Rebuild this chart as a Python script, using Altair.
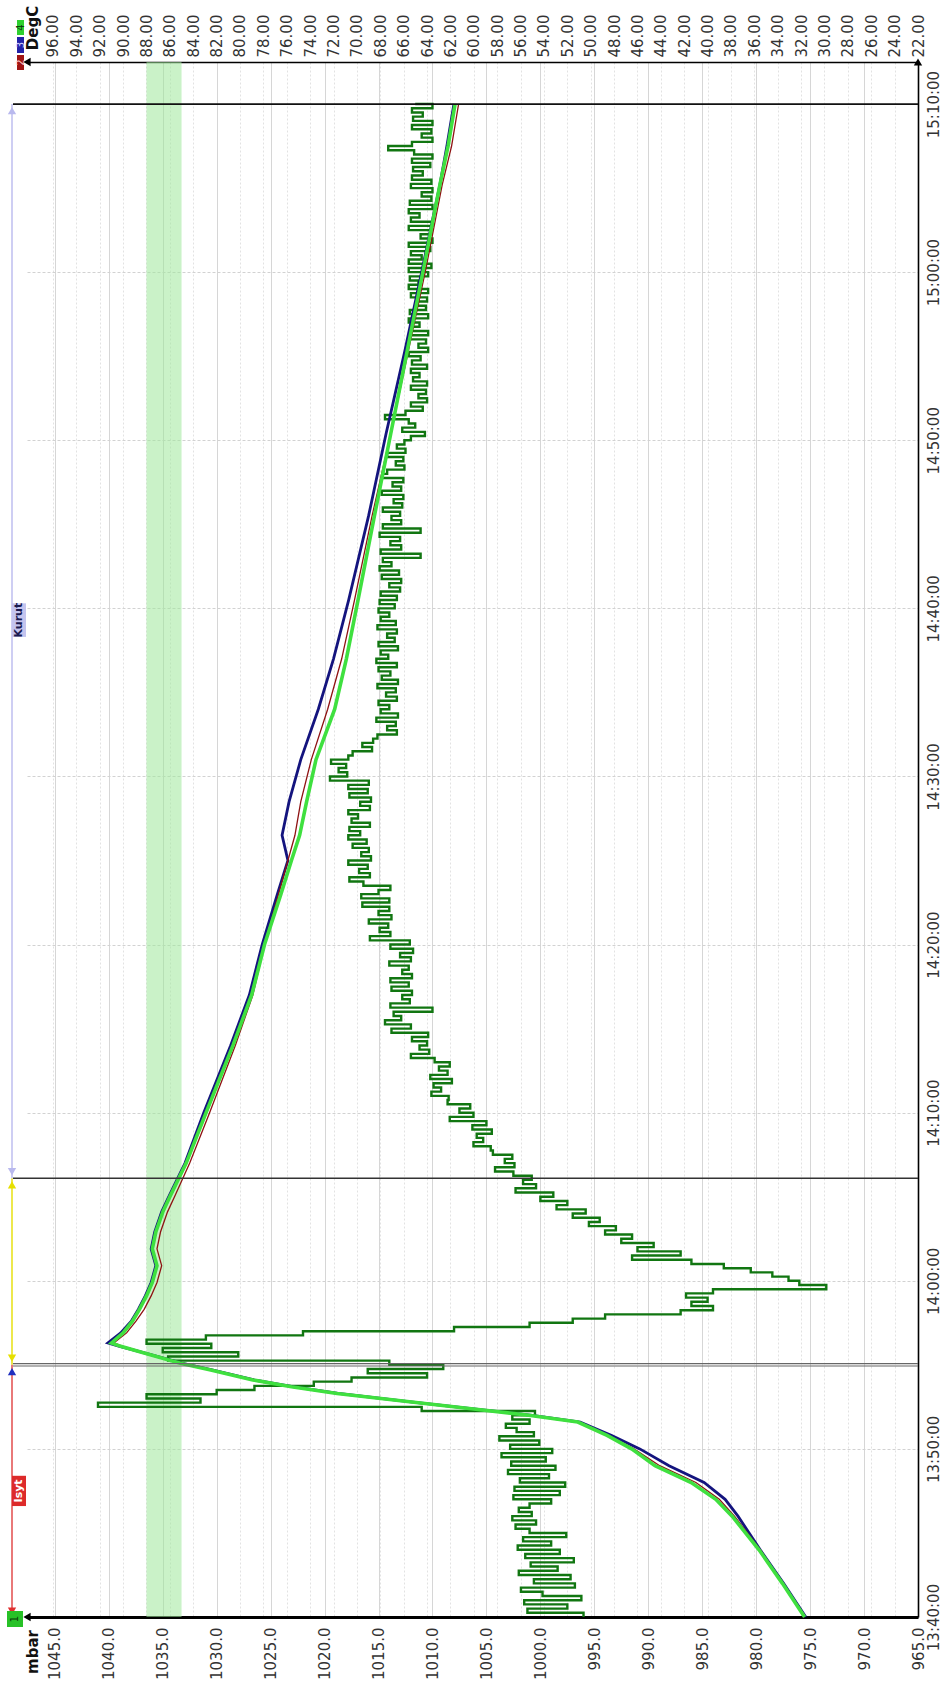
import altair as alt
import pandas as pd

# Plot area in pixels
W, H = 891, 1555

# ---------------------------------------------------------------
# Pressure logger, channel 1 (mbar), one reading every 15 s from 13:40:00
SAMPLE_MIN = 0.25

# 13:40:00 - 13:51:45 (heating, chamber near ambient)
pressure_heat = [
    996.0, 1001.2, 997.5, 1001.5, 996.2, 999.8,
    1001.8, 996.8, 1000.6, 997.2, 1002.0, 998.4, 1000.9,
    996.9, 1001.4, 998.2, 1002.1, 999.0, 1001.6, 997.6, 1001.0,
    1002.3, 1000.4, 1002.6, 1000.8, 1002.0, 1001.0, 999.0, 1002.5,
    998.2, 1002.4, 997.7, 1001.9, 999.2, 1003.0, 998.6, 1002.7,
    999.5, 1003.6, 998.9, 1002.8, 1000.1, 1003.8, 1000.6, 1002.2,
    1003.2, 1001.0, 1002.6,
]
# 13:52:00 - 14:05:00 (pressure pulse and vacuum)
pressure_vent = [
    1000.5, 1011.0, 1041.0, 1031.5,
    1036.5, 1030.0, 1026.5, 1021.0,
    1017.5, 1010.5, 1016.0, 1009.0,
    1014.0, 1034.5, 1028.0, 1035.0,
    1030.5, 1036.5, 1031.0, 1022.0,
    1008.0, 1001.0, 997.0, 994.0,
    987.0, 984.0, 986.0, 984.5,
    986.5, 984.0, 973.5, 976.0,
    977.0, 978.5, 980.5, 983.0,
    986.0, 991.5, 987.0, 991.0,
    989.5, 992.5, 991.5, 994.0,
    993.0, 995.5, 994.5, 997.0,
    995.8, 998.5, 997.5, 1000.0,
    998.8,
]
# 14:05:15 - 15:10:00 (drying)
pressure_dry = [
    1002.3, 1000.4, 1001.6, 1000.8, 1002.5,
    1004.2, 1002.4, 1003.3, 1002.6, 1004.4,
    1004.6, 1006.2, 1005.3, 1005.9, 1004.5, 1006.3, 1005.0,
    1008.4, 1006.2, 1007.5, 1006.5, 1008.6,
    1008.5, 1010.1, 1009.2, 1009.9, 1008.2, 1010.2, 1008.6, 1009.4, 1008.4, 1009.8,
    1012.0, 1010.3, 1011.2, 1010.5, 1011.9, 1010.4,
    1013.8, 1012.0, 1014.4, 1012.9, 1013.6, 1010.0, 1013.9, 1012.1, 1012.8, 1011.9, 1013.8, 1012.2,
    1013.9, 1011.9, 1012.8, 1012.2, 1014.0, 1012.0, 1013.0, 1011.8, 1013.9, 1012.1,
    1015.8, 1013.9, 1014.9, 1014.1, 1015.9, 1013.8, 1015.0, 1014.0,
    1016.5, 1014.0, 1016.6, 1015.0, 1013.9, 1016.4,
    1017.7, 1015.8, 1016.8, 1016.0, 1017.8, 1015.7, 1016.6, 1015.9, 1017.4, 1016.1, 1017.8, 1016.7,
    1017.7, 1015.8, 1017.5, 1016.9, 1017.8, 1015.8, 1016.7, 1015.7, 1017.7, 1016.0, 1017.8, 1015.9,
    1019.5, 1017.9, 1018.7, 1018.0, 1019.4, 1017.8,
    1017.4, 1015.6, 1016.5, 1015.5,
    1015.1, 1013.3, 1014.2, 1013.4, 1015.2, 1013.2, 1014.8, 1014.0, 1015.0, 1013.3, 1014.3, 1013.4,
    1015.1, 1013.2, 1014.7, 1013.9, 1015.0, 1013.3, 1015.2, 1014.1, 1014.8, 1013.2, 1015.0, 1013.5,
    1014.2, 1013.3, 1015.1, 1013.4, 1014.8, 1014.0, 1015.0, 1013.5, 1014.9, 1013.3,
    1014.8, 1013.0, 1014.0, 1012.9, 1014.7, 1013.1, 1014.9, 1013.8, 1014.6, 1011.1,
    1014.8, 1012.9, 1013.9, 1013.0, 1014.9, 1011.1, 1014.6, 1012.9, 1013.8, 1013.0,
    1014.6, 1012.8, 1013.6, 1012.7, 1014.7, 1012.9, 1013.7, 1012.7, 1014.6,
    1014.2, 1012.6, 1013.4, 1012.7, 1014.2, 1012.5, 1013.3, 1012.6,
    1012.0, 1010.7, 1012.8, 1011.6, 1012.2, 1014.4, 1012.5, 1010.9,
    1012.0, 1010.5, 1011.3, 1010.6, 1012.0, 1010.5, 1011.8, 1011.2, 1012.0, 1010.5, 1011.9, 1011.1,
    1012.2, 1010.4, 1011.3, 1010.6, 1012.2, 1010.4, 1012.0, 1011.2, 1012.2, 1010.4, 1012.1,
    1010.6, 1011.4, 1010.5, 1012.0, 1010.4, 1012.2, 1011.3, 1012.1, 1010.4, 1012.2,
    1010.1, 1012.2, 1011.0, 1012.0, 1010.2, 1012.2, 1010.0, 1011.1, 1010.1, 1012.2,
    1010.0, 1012.0, 1011.2, 1012.2, 1010.0, 1012.1, 1010.1, 1011.0, 1010.0, 1012.0,
    1010.1, 1011.9, 1010.9, 1011.8, 1010.2, 1011.9, 1010.0, 1011.7, 1014.1, 1011.9,
    1010.0, 1011.0, 1010.1, 1011.9, 1010.0, 1011.8, 1010.9, 1011.9, 1010.0, 1011.6,
]

# ---------------------------------------------------------------
# Temperature probes 2, 3, 4 (DegC), minutes after 13:40:00
temp_time = [
    0, 2, 4, 6, 7, 8, 9, 10, 10.8, 11.6,
    12.0, 12.4, 12.8, 13.3, 13.7, 14.1, 14.7, 15.1, 15.7, 16.1,
    16.3, 16.9, 17.6, 18.3, 19.1, 19.9, 20.9, 21.9, 22.9, 24.1,
    25.0, 27.0, 30.0, 34.0, 37.0, 40.0, 43.0, 45.0, 46.5, 48.5,
    51.0, 54.0, 57.0, 60.5, 65.5, 70.4, 75.3, 80.2, 85.2, 87.5, 90.0,
]
temp_ch4 = [
    31.7, 33.6, 35.6, 37.9, 39.3, 41.4, 44.5, 46.5, 48.6, 51.1,
    55.3, 60.4, 65.5, 71.7, 75.6, 78.9, 82.5, 85.1, 88.2, 90.2,
    91.0, 90.0, 89.2, 88.6, 88.0, 87.5, 87.1, 87.5, 87.2, 86.6,
    86.0, 84.6, 82.9, 80.6, 79.0, 77.9, 76.5, 75.6, 74.9, 74.3,
    73.5, 71.9, 70.9, 69.9, 68.5, 67.1, 65.7, 64.3, 62.9, 62.2, 61.6,
]
temp_ch3 = [
    31.6, 33.5, 35.5, 37.4, 38.5, 40.3, 43.3, 45.8, 48.2, 50.9,
    55.0, 60.2, 65.4, 71.6, 75.5, 78.8, 82.4, 85.0, 88.1, 90.3,
    91.3, 90.2, 89.3, 88.7, 88.1, 87.6, 87.2, 87.6, 87.3, 86.7,
    86.1, 84.7, 83.1, 80.8, 79.2, 78.1, 76.8, 75.9, 76.4, 75.8,
    74.8, 73.3, 72.0, 70.7, 69.0, 67.5, 65.9, 64.4, 62.9, 62.3, 61.7,
]
temp_ch2 = [
    31.7, 33.6, 35.5, 37.7, 39.0, 41.0, 44.1, 46.3, 48.5, 51.0,
    55.2, 60.3, 65.4, 71.6, 75.5, 78.7, 82.3, 84.9, 88.0, 90.0,
    90.8, 89.7, 88.9, 88.2, 87.6, 87.1, 86.7, 87.1, 86.8, 86.2,
    85.6, 84.3, 82.6, 80.4, 78.9, 77.9, 76.7, 75.9, 75.3, 74.8,
    73.9, 72.5, 71.3, 70.2, 68.7, 67.1, 65.6, 64.1, 62.7, 61.9, 61.3,
]

# Target temperature band (DegC)
band_low, band_high = 85.0, 88.0

# Process phases (minutes after 13:40:00)
phase_start = [0.0, 15.0, 26.1]
phase_end = [15.0, 26.1, 90.0]
phase_color = ["#e04040", "#e6df00", "#b9b9ee"]

# Axis ticks
mbar_ticks = [965 + 5 * i for i in range(17)]
degc_ticks = [22 + 2 * i for i in range(38)]
time_ticks = [10 * i for i in range(10)]

FONT = "DejaVu Sans"
LABEL = "#333333"

# ---------------------------------------------------------------
pressure = pressure_heat + pressure_vent + pressure_dry
p_df = pd.DataFrame({
    "i": range(len(pressure)),
    "t": [i * SAMPLE_MIN for i in range(len(pressure))],
    "mbar": pressure,
})


def temp_frame(values):
    return pd.DataFrame({"i": range(len(values)), "t": temp_time, "degc": values})


band_df = pd.DataFrame({"lo": [band_low], "hi": [band_high]})
one = pd.DataFrame({"a": [0]})

mbar_scale = alt.Scale(domain=[965, 1047.58], reverse=True, nice=False, zero=False)
degc_scale = alt.Scale(domain=[22, 98.22], reverse=True, nice=False, zero=False)
time_scale = alt.Scale(domain=[0, 92.5], nice=False, zero=False)

time_axis = alt.Axis(
    orient="right", values=time_ticks, title=None,
    labelExpr="timeFormat(datetime(2020, 0, 1, 13, 40 + datum.value, 0), '%H:%M:%S')",
    labelAngle=270, labelAlign="center", labelBaseline="top", labelPadding=8,
    labelFont=FONT, labelFontSize=15, labelColor=LABEL,
    ticks=False, domainColor="#000000", domainWidth=1.6,
    grid=True, gridColor="#d2d2d2", gridDash=[3, 2], gridWidth=1,
)
mbar_axis = alt.Axis(
    orient="bottom", values=mbar_ticks, format=".1f", title=None,
    labelAngle=270, labelAlign="right", labelBaseline="middle", labelPadding=10,
    labelFont=FONT, labelFontSize=15, labelColor=LABEL,
    ticks=False, domainColor="#000000", domainWidth=3,
    grid=True, gridColor="#d6d6d6", gridWidth=1,
)
degc_axis = alt.Axis(
    orient="top", values=degc_ticks, format=".2f", title=None,
    labelAngle=270, labelAlign="left", labelBaseline="middle", labelPadding=5,
    labelFont=FONT, labelFontSize=15, labelColor=LABEL,
    ticks=False, domainColor="#000000", domainWidth=1.6,
    grid=True, gridColor="#e2e2e2", gridDash=[2, 2], gridWidth=1,
)


def ytime(field="t"):
    return alt.Y(f"{field}:Q", scale=time_scale, axis=time_axis)


# Target band, carries the DegC axis
band = alt.Chart(band_df).mark_rect(color="#9fe89a", opacity=0.55).encode(
    x=alt.X("lo:Q", scale=degc_scale, axis=degc_axis),
    x2="hi:Q",
    y=alt.value(0),
    y2=alt.value(H),
)

# Chamber pressure, carries the mbar axis
press = alt.Chart(p_df).mark_line(
    interpolate="step-before", color="#117611", strokeWidth=2.4
).encode(
    x=alt.X("mbar:Q", scale=mbar_scale, axis=mbar_axis),
    y=ytime(),
    order=alt.Order("i:Q"),
)


def temp_line(values, color, width):
    return alt.Chart(temp_frame(values)).mark_line(color=color, strokeWidth=width).encode(
        x=alt.X("degc:Q", scale=degc_scale, axis=None),
        y=ytime(),
        order=alt.Order("i:Q"),
    )


blue = temp_line(temp_ch3, "#14147e", 2.8)
red = temp_line(temp_ch2, "#8e1212", 1.3)
green = temp_line(temp_ch4, "#3fe03f", 3.6)

# Phase boundary lines across the plot
bound_df = pd.DataFrame({
    "t": [14.93, 15.07, 26.1, 90.0],
    "c": ["#666666", "#666666", "#333333", "#111111"],
    "w": [1.2, 1.2, 1.6, 1.8],
})
bounds = alt.Chart(bound_df).mark_rule().encode(
    y=ytime(),
    x=alt.value(-14),
    x2=alt.value(W),
    color=alt.Color("c:N", scale=None),
    strokeWidth=alt.StrokeWidth("w:Q", scale=None),
)

# Phase bars in the left margin
phase_df = pd.DataFrame({"s": phase_start, "e": phase_end, "c": phase_color})
phases = alt.Chart(phase_df).mark_rule(strokeWidth=1.4).encode(
    x=alt.value(-15),
    y=ytime("s"),
    y2="e:Q",
    color=alt.Color("c:N", scale=None),
)

marker_df = pd.DataFrame({
    "t": [0.35, 14.6, 15.4, 25.7, 26.5, 89.6],
    "shape": ["triangle-down", "triangle-up", "triangle-down", "triangle-up",
              "triangle-down", "triangle-up"],
    "c": ["#e03030", "#2030c0", "#e6df00", "#e6df00", "#b9b9ee", "#b9b9ee"],
})
markers = alt.Chart(marker_df).mark_point(filled=True, size=70, opacity=1).encode(
    x=alt.value(-15),
    y=ytime(),
    shape=alt.Shape("shape:N", scale=None),
    color=alt.Color("c:N", scale=None),
)

tag_df = pd.DataFrame({
    "name": ["Isyt", "Kurut"],
    "t0": [6.6, 58.3],
    "t1": [8.4, 60.3],
    "tm": [7.5, 59.3],
    "fill": ["#dd2a2a", "#c4c4ee"],
    "ink": ["#ffffff", "#1a1a50"],
})
tag_box = alt.Chart(tag_df).mark_rect().encode(
    x=alt.value(-15), x2=alt.value(-1),
    y=ytime("t0"), y2="t1:Q",
    color=alt.Color("fill:N", scale=None),
)
tag_text = alt.Chart(tag_df).mark_text(
    angle=270, font=FONT, fontSize=11, fontWeight="bold", align="center", baseline="middle"
).encode(
    x=alt.value(-8),
    y=ytime("tm"),
    text="name:N",
    color=alt.Color("ink:N", scale=None),
)


def box(x0, x1, y0, y1, fill):
    return alt.Chart(one).mark_rect(color=fill).encode(
        x=alt.value(x0), x2=alt.value(x1), y=alt.value(y0), y2=alt.value(y1)
    )


def label(x, y, text, color, size, weight="normal"):
    return alt.Chart(one).mark_text(
        text=text, angle=270, color=color, font=FONT, fontSize=size,
        fontWeight=weight, align="center", baseline="middle",
    ).encode(x=alt.value(x), y=alt.value(y))


def arrow(x, y, shape):
    return alt.Chart(one).mark_point(
        shape=shape, filled=True, color="#000000", size=70, opacity=1
    ).encode(x=alt.value(x), y=alt.value(y))


decor = [
    # channel keys and units
    box(-10, -3, -42, -27, "#2fd02f"), label(-6.5, -34.5, "4", "#104010", 10),
    box(-10, -3, -25, -9, "#2222a8"), label(-6.5, -17, "3", "#d0d0ff", 10),
    box(-10, -3, -7, 8, "#a01414"), label(-6.5, 0.5, "2", "#ffd0d0", 10),
    label(6, -34, "DegC", "#111111", 15, "bold"),
    box(-20, -4, H - 6, H + 10, "#27c127"), label(-12, H + 2, "1", "#0a3a0a", 10),
    label(6, H + 35, "mbar", "#111111", 15, "bold"),
    # axis arrowheads
    arrow(0, 0, "triangle-left"),
    arrow(0, H, "triangle-left"),
    arrow(W, 0, "triangle-up"),
]

chart = alt.layer(
    band, press, blue, red, green, bounds, phases, markers, tag_box, tag_text, *decor
).resolve_scale(
    x="independent"
).properties(
    width=W,
    height=H,
    autosize=alt.AutoSizeParams(type="none"),
    padding={"left": 27, "top": 62, "right": 25, "bottom": 74},
).configure_view(
    stroke=None
).configure_point(
    strokeWidth=0
)

chart.save("out.html", embed_options={"renderer": "svg", "actions": False})
